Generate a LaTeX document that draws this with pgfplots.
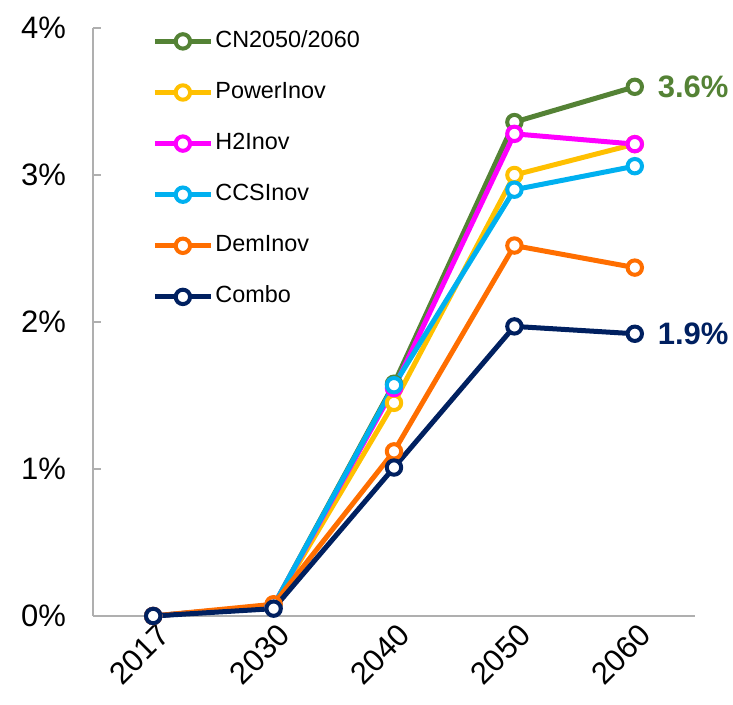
\documentclass[border=0pt]{standalone}
\usepackage{pgfplots}
\pgfplotsset{compat=1.18}
\usepackage{fontspec}
\setmainfont{Liberation Sans}
\definecolor{cgreen}{RGB}{84,130,53}
\definecolor{cyellow}{RGB}{255,192,0}
\definecolor{cmag}{RGB}{255,0,255}
\definecolor{ccyan}{RGB}{0,176,240}
\definecolor{corange}{RGB}{255,110,0}
\definecolor{cnavy}{RGB}{0,32,96}
\definecolor{caxis}{RGB}{175,175,175}
\begin{document}
\begin{tikzpicture}
\begin{axis}[
  scale only axis, width=301pt, height=294pt,
  xmin=-0.5, xmax=4.5, ymin=0, ymax=4,
  axis x line=bottom, axis y line=left,
  axis line style={-, caxis, line width=0.8pt},
  xtick={0,1,2,3,4}, xticklabels={2017,2030,2040,2050,2060},
  ytick={0,1,2,3,4}, yticklabels={0\%,1\%,2\%,3\%,4\%},
  x tick style={draw=none},
  y tick style={caxis, line width=0.8pt},
  tick align=inside, major tick length=4pt,
  /pgf/number format/assume math mode=true,
  tick label style={font=\fontsize{15.5}{18}\selectfont},
  y tick label style={xshift=-10pt},
  x tick label style={rotate=45, anchor=north east, inner sep=1pt, yshift=-2pt},
  every axis plot/.append style={line width=2.5pt, mark=*, mark size=3.6pt,
     mark options={fill=white, line width=2pt}},
  legend style={draw=none, fill=none, at={(axis description cs:0.098,1.0)}, anchor=north west,
     inner sep=0pt, row sep=12.55pt,
     nodes={font=\fontsize{11.7}{14}\selectfont, text height=8.5pt, text depth=2.5pt, inner sep=1pt}},
  legend cell align=left,
  legend image code/.code={\draw[mark repeat=2, mark phase=2] plot coordinates {(0pt,0pt) (14pt,0pt) (28pt,0pt)};},
  clip=false,
]
\addplot[cgreen] coordinates {(0,0) (1,0.07) (2,1.58) (3,3.36) (4,3.60)};
\addlegendentry{CN2050/2060}
\addplot[cyellow] coordinates {(0,0) (1,0.07) (2,1.45) (3,3.00) (4,3.21)};
\addlegendentry{PowerInov}
\addplot[cmag] coordinates {(0,0) (1,0.07) (2,1.55) (3,3.28) (4,3.21)};
\addlegendentry{H2Inov}
\addplot[ccyan] coordinates {(0,0) (1,0.07) (2,1.57) (3,2.90) (4,3.06)};
\addlegendentry{CCSInov}
\addplot[corange] coordinates {(0,0) (1,0.08) (2,1.12) (3,2.52) (4,2.37)};
\addlegendentry{DemInov}
\addplot[cnavy] coordinates {(0,0) (1,0.05) (2,1.01) (3,1.97) (4,1.92)};
\addlegendentry{Combo}
\node[anchor=west, text=cgreen, font=\bfseries\fontsize{15.5}{18}\selectfont, xshift=8pt] at (axis cs:4,3.6) {3.6\%};
\node[anchor=west, text=cnavy, font=\bfseries\fontsize{15.5}{18}\selectfont, xshift=8pt] at (axis cs:4,1.92) {1.9\%};
\end{axis}
\pgfresetboundingbox
\path (-46.5pt,-44.5pt) rectangle (320pt,308pt);
\end{tikzpicture}
\end{document}
